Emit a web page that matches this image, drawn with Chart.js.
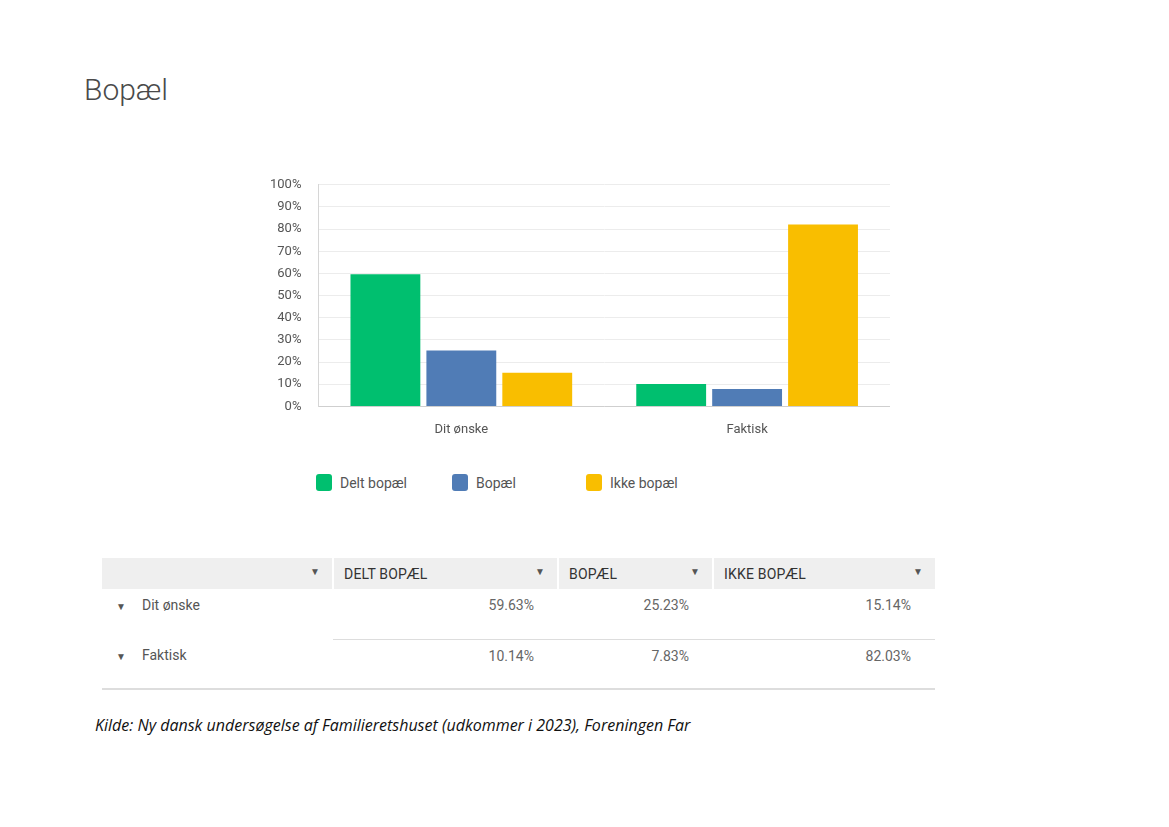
<!DOCTYPE html>
<html lang="da">
<head>
  <meta charset="UTF-8">
  <title>Bopæl</title>
  <script src="https://cdn.jsdelivr.net/npm/chart.js"></script>
  <style>
    body {
      margin: 0;
      width: 1169px;
      height: 827px;
      background: #fff;
      font-family: Roboto, "Open Sans", sans-serif;
      position: relative;
      overflow: hidden;
    }

    h1 {
      position: absolute;
      left: 84px;
      top: 72px;
      margin: 0;
      font-size: 30px;
      font-weight: 300;
      color: #4a4a4a;
    }

    #chartBox {
      position: absolute;
      left: 253px;
      top: 160px;
      width: 637px;
      height: 294px;
    }

    #legend {
      position: absolute;
      left: 316px;
      top: 474px;
      display: flex;
      font-size: 14px;
      color: #555;
    }

    .item {
      display: flex;
      align-items: center;
    }

    .box {
      width: 16px;
      height: 17px;
      border-radius: 3px;
      margin-right: 8px;
    }

    table {
      position: absolute;
      left: 102px;
      top: 558px;
      border-collapse: collapse;
      font-size: 14px;
      color: #555;
    }

    th {
      background: #efefef;
      height: 31px;
      text-align: left;
      font-weight: 400;
      color: #333;
      padding: 0 10px;
      border-left: 2px solid #fff;
      position: relative;
      letter-spacing: 0.2px;
    }

    th:first-child { border-left: none; }

    th .arr {
      position: absolute;
      right: 12px;
      top: 8px;
      font-size: 10px;
      color: #555;
    }

    td {
      height: 50px;
      box-sizing: border-box;
      vertical-align: top;
      padding: 8px 0 0 0;
    }

    td.num {
      text-align: right;
      padding-right: 24px;
      color: #666;
    }

    tr.r1 td.num { border-bottom: 1px solid #ddd; }
    tr.r2 td { border-bottom: 2px solid #ddd; }

    td.lab .arr {
      display: inline-block;
      width: 40px;
      padding-left: 14px;
      font-size: 10px;
      box-sizing: border-box;
    }

    #source {
      position: absolute;
      left: 95px;
      top: 714px;
      font-family: "Open Sans", sans-serif;
      font-style: italic;
      font-size: 16px;
      color: #111;
    }
  </style>
</head>
<body>

  <h1>Bopæl</h1>

  <div id="chartBox"><canvas id="barChart"></canvas></div>
  <div id="legend"></div>

  <table id="dataTable"></table>

  <div id="source">Kilde: Ny dansk undersøgelse af Familieretshuset (udkommer i 2023), Foreningen Far</div>

  <script>
    const categories = ['Dit ønske', 'Faktisk'];
    const seriesNames = ['Delt bopæl', 'Bopæl', 'Ikke bopæl'];
    const deltBopael = [59.63, 10.14];
    const bopael = [25.23, 7.83];
    const ikkeBopael = [15.14, 82.03];
    const colors = ['#00bf6f', '#507cb6', '#f9be00'];
    const yTicks = [0, 10, 20, 30, 40, 50, 60, 70, 80, 90, 100];

    const seriesValues = [deltBopael, bopael, ikkeBopael];

    // grafen
    const ctx = document.getElementById('barChart').getContext('2d');
    new Chart(ctx, {
      type: 'bar',
      data: {
        labels: categories,
        datasets: seriesNames.map((name, i) => ({
          label: name,
          data: seriesValues[i],
          backgroundColor: colors[i],
          categoryPercentage: 0.797,
          barPercentage: 0.92
        }))
      },
      options: {
        responsive: true,
        maintainAspectRatio: false,
        animation: false,
        plugins: {
          legend: { display: false },
          tooltip: { enabled: false }
        },
        scales: {
          x: {
            grid: { display: false, drawTicks: false },
            border: { color: '#cfcfcf' },
            ticks: {
              color: '#555',
              padding: 16,
              font: { family: 'Roboto', size: 13 }
            }
          },
          y: {
            min: 0,
            max: 100,
            afterBuildTicks: axis => {
              axis.ticks = yTicks.map(v => ({ value: v }));
            },
            grid: { color: '#ececec', drawTicks: false },
            border: { color: '#d6d6d6' },
            ticks: {
              color: '#555',
              padding: 17,
              font: { family: 'Roboto', size: 13 },
              callback: v => v + '%'
            }
          }
        }
      }
    });

    // legende
    const legendWidths = [136, 134, 120];
    document.getElementById('legend').innerHTML = seriesNames.map((name, i) =>
      `<div class="item" style="width:${legendWidths[i]}px"><span class="box" style="background:${colors[i]}"></span>${name}</div>`
    ).join('');

    // tabel
    const colWidths = [230, 225, 155, 223];
    let html = '<tr>' + ['', ...seriesNames].map((name, i) =>
      `<th style="width:${colWidths[i] - (i ? 22 : 20)}px">${name.toUpperCase()}<span class="arr">&#9660;</span></th>`
    ).join('') + '</tr>';
    categories.forEach((cat, r) => {
      html += `<tr class="r${r + 1}"><td class="lab"><span class="arr">&#9660;</span>${cat}</td>`;
      seriesValues.forEach(vals => {
        html += `<td class="num">${vals[r].toFixed(2)}%</td>`;
      });
      html += '</tr>';
    });
    document.getElementById('dataTable').innerHTML = html;
  </script>

</body>
</html>
